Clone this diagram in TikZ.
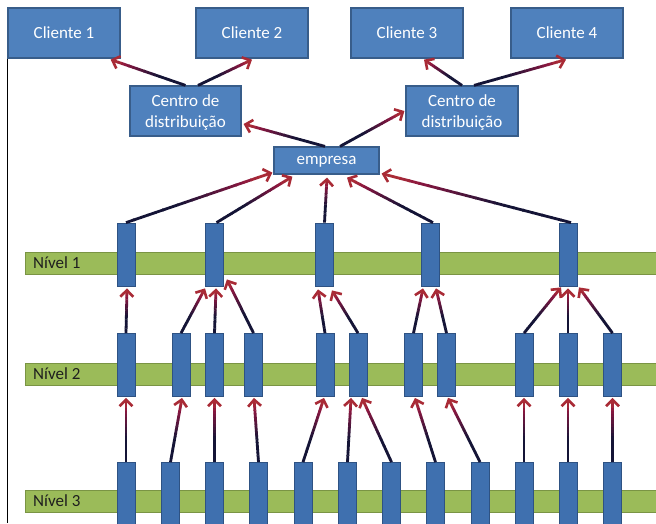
\documentclass[tikz,border=0pt]{standalone}
\usepackage{fontspec}
\setmainfont{Carlito}
\usetikzlibrary{calc,arrows.meta}

\definecolor{boxblue}{HTML}{4F81BD}
\definecolor{boxedge}{HTML}{385D8A}
\definecolor{barlight}{HTML}{5B8ECD}
\definecolor{bardark}{HTML}{3F70AF}
\definecolor{baredge}{HTML}{2E5283}
\definecolor{lvlgreen}{HTML}{9BBB59}
\definecolor{lvledge}{HTML}{7A9444}
\definecolor{fnavy}{HTML}{141436}
\definecolor{fcrim}{HTML}{8A1640}
\definecolor{forng}{HTML}{C8402C}
\colorlet{ftip}{forng!50!fcrim}

\tikzset{
  card/.style={draw=boxedge, line width=1.2pt, fill=boxblue, text=white,
    font=\fontsize{17}{21}\selectfont, align=center, inner sep=0pt,
    text depth=0pt},
  pillar/.style={draw=baredge, line width=0.8pt, left color=bardark,
    middle color=barlight, right color=bardark,
    minimum width=18pt, minimum height=63pt, inner sep=0pt},
  level/.style={draw=lvledge, line width=0.8pt, fill=lvlgreen,
    minimum height=22pt, minimum width=700pt, anchor=west, inner sep=0pt},
  lvltext/.style={anchor=west, inner sep=0pt, text=black!88,
    font=\fontsize{17}{21}\selectfont},
  flowtip/.style={draw=ftip, line width=2.8pt,
    -{Straight Barb[length=6.5pt,width=13pt,line width=2.6pt]}}
}

% connector whose colour runs from navy to crimson, ending in an open arrow
\newcommand\flowline[2]{%
  \path (#1) coordinate (fa) (#2) coordinate (fb);
  \foreach \k in {0,...,17}{%
    \pgfmathsetmacro\ta{\k*0.05}%
    \pgfmathsetmacro\tb{\k*0.05+0.056}%
    \pgfmathsetmacro\tm{\k*0.05+0.025}%
    \pgfmathtruncatemacro\pa{max(0,min(100,(\tm-0.35)/0.45*100))}%
    \pgfmathtruncatemacro\pb{max(0,min(100,(\tm-0.8)/0.2*100))}%
    \colorlet{fmid}{fcrim!\pa!fnavy}%
    \colorlet{fseg}{forng!\pb!fmid}%
    \draw[line width=2.8pt, draw=fseg] ($(fa)!\ta!(fb)$) -- ($(fa)!\tb!(fb)$);
  }%
  \draw[flowtip] ($(fa)!0.9!(fb)$) -- (fb);
}

\begin{document}
\begin{tikzpicture}[x=1pt, y=-1pt]
\useasboundingbox (0,0) rectangle (656,523);
\clip (0,0) rectangle (656,523);

% clients, distribution centres and company
\node[card, minimum width=112pt, minimum height=50pt] (c1) at (64,33) {Cliente 1};
\node[card, minimum width=112pt, minimum height=50pt] (c2) at (252,33) {Cliente 2};
\node[card, minimum width=112pt, minimum height=50pt] (c3) at (407,33) {Cliente 3};
\node[card, minimum width=112pt, minimum height=50pt] (c4) at (567,33) {Cliente 4};
\node[card, minimum width=111pt, minimum height=50pt] (d1) at (185.5,111) {Centro de\\distribuição};
\node[card, minimum width=112pt, minimum height=50pt] (d2) at (462,111) {Centro de\\distribuição};
\node[card, minimum width=105pt, minimum height=27pt] (e) at (326.5,160.5) {empresa};

% frame line on the left
\draw[black, line width=1.3pt] (c1.south west) -- (c1.south west |- 0,523);

% level bands
\node[level] (lv1) at (25,263) {};
\node[level] (lv2) at (25,374) {};
\node[level] (lv3) at (25,501) {};
\node[lvltext] (t1) at ([xshift=8pt]lv1.west) {Nível 1};
\node[lvltext] (t2) at ([xshift=8pt]lv2.west) {Nível 2};
\node[lvltext] (t3) at ([xshift=8pt]lv3.west) {Nível 3};

% level 1 pillars
\foreach \n/\x in {a1/126, a2/214.5, a3/324.5, a4/430, a5/568}
  \node[pillar] (\n) at (\x,254.5) {};
% level 2 pillars
\foreach \n/\x in {b1/126, b2/181, b3/214.5, b4/253.5, b5/325, b6/358,
                   b7/413.5, b8/446.5, b9/524, b10/568, b11/612.5}
  \node[pillar] (\n) at (\x,365) {};
% level 3 pillars
\foreach \n/\x in {g1/126, g2/170.5, g3/214.5, g4/258.5, g5/303, g6/347.5,
                   g7/391.5, g8/435.5, g9/480, g10/524, g11/568, g12/612.5}
  \node[pillar] (\n) at (\x,494) {};

% level 3 -> level 2
\flowline{g1.north}{[yshift=-1pt]b1.south}
\flowline{g2.north}{[xshift=1pt,yshift=-1pt]b2.south}
\flowline{g3.north}{[yshift=-1pt]b3.south}
\flowline{g4.north}{[xshift=0.5pt,yshift=-1pt]b4.south}
\flowline{g5.north}{[xshift=-1pt,yshift=-1pt]b5.south}
\flowline{g6.north}{[xshift=-7pt,yshift=-1pt]b6.south}
\flowline{g7.north}{[xshift=4pt,yshift=-1pt]b6.south}
\flowline{g8.north}{[xshift=1.5pt,yshift=-1pt]b7.south}
\flowline{g9.north}{[xshift=1.5pt,yshift=-1pt]b8.south}
\flowline{g10.north}{[yshift=-1pt]b9.south}
\flowline{g11.north}{[yshift=-1pt]b10.south}
\flowline{g12.north}{[yshift=-1pt]b11.south}

% level 2 -> level 1
\flowline{b1.north}{[xshift=1pt,yshift=-2pt]a1.south}
\flowline{b2.north}{[xshift=-9.5pt,yshift=-2pt]a2.south}
\flowline{b3.north}{[xshift=1.5pt,yshift=-2pt]a2.south}
\flowline{b4.north}{[xshift=3pt,yshift=7pt]a2.south east}
\flowline{b5.north}{[xshift=-6.5pt,yshift=-3pt]a3.south}
\flowline{b6.north}{[xshift=7.5pt,yshift=-4pt]a3.south}
\flowline{b7.north}{[xshift=-7pt,yshift=-2pt]a4.south}
\flowline{b8.north}{[xshift=6pt,yshift=-2pt]a4.south}
\flowline{b9.north}{[xshift=-7pt,yshift=-1pt]a5.south}
\flowline{b10.north}{[yshift=-2pt]a5.south}
\flowline{b11.north}{[xshift=11pt,yshift=-1pt]a5.south}

% level 1 -> company
\flowline{a1.north}{[xshift=-1pt,yshift=2pt]e.south west}
\flowline{[xshift=2pt]a2.north}{[xshift=19pt,yshift=-2pt]e.south west}
\flowline{a3.north}{[xshift=0.5pt,yshift=-3pt]e.south}
\flowline{[xshift=3pt]a4.north}{[xshift=20.5pt,yshift=-3pt]e.south}
\flowline{[xshift=3pt]a5.north}{[xshift=2pt,yshift=1pt]e.south east}

% company -> distribution centres
\flowline{[xshift=-1.5pt]e.north}{[xshift=2pt,yshift=-13pt]d1.east}
\flowline{[xshift=13.5pt]e.north}{[xshift=-1pt]d2.west}

% distribution centres -> clients
\flowline{d1.north}{[xshift=-10pt,yshift=-1pt]c1.south east}
\flowline{[xshift=12.5pt]d1.north}{[yshift=-1pt]c2.south}
\flowline{d2.north}{[xshift=17pt,yshift=-1pt]c3.south}
\flowline{[xshift=12pt]d2.north}{[xshift=-1pt,yshift=-1pt]c4.south}
\end{tikzpicture}
\end{document}
